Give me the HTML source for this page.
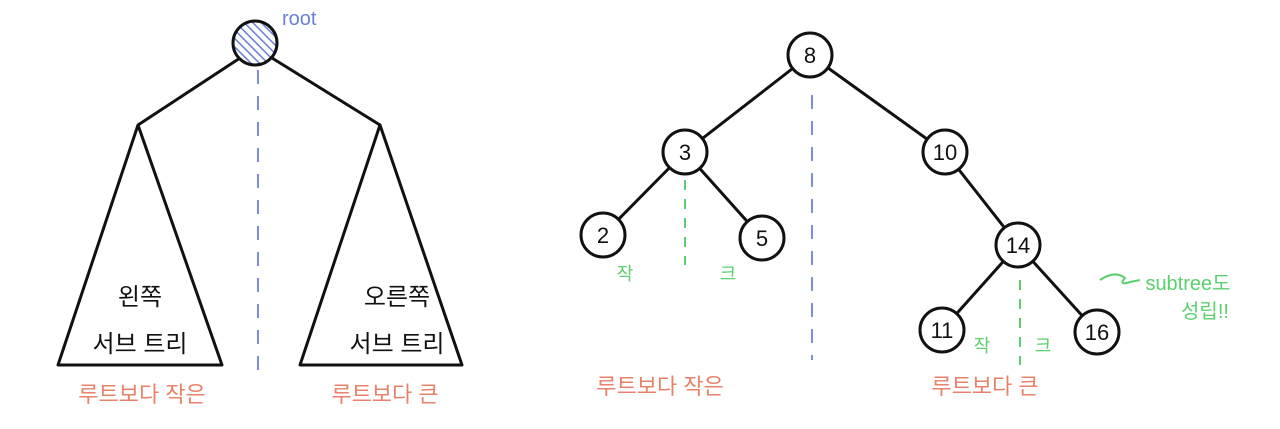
<!DOCTYPE html>
<html><head><meta charset="utf-8"><style>
body{margin:0;background:#fff;width:1280px;height:424px;overflow:hidden}
svg text{font-family:"Liberation Sans","Noto Sans CJK KR",sans-serif}
</style></head><body>
<svg width="1280" height="424" viewBox="0 0 1280 424">
<defs><pattern id="hatch" width="6" height="6" patternUnits="userSpaceOnUse" patternTransform="rotate(-45)"><rect width="6" height="6" fill="#fff"/><line x1="0" y1="0" x2="0" y2="6" stroke="#6b7fd6" stroke-width="3"/></pattern></defs>
<g stroke="#111" stroke-width="3" fill="none" stroke-linejoin="round">
<line x1="240" y1="58" x2="138" y2="125"/>
<line x1="272" y1="58" x2="380" y2="125"/>
<polygon points="138,125 58,365 222,365"/>
<polygon points="380,125 300,365 462,365"/>
</g>
<circle cx="255" cy="43" r="22" fill="url(#hatch)" stroke="#111" stroke-width="3"/>
<text x="282" y="25" fill="#6b7fd6" font-size="20">root</text>
<line x1="258" y1="70" x2="258" y2="380" stroke="#7d8ee0" stroke-width="2" stroke-dasharray="14,12"/>
<g font-size="24" fill="#111" text-anchor="middle">
<text x="140" y="305">왼쪽</text>
<text x="140" y="352">서브 트리</text>
<text x="397" y="305">오른쪽</text>
<text x="397" y="352">서브 트리</text>
</g>
<g font-size="22" fill="#e8826b" text-anchor="middle">
<text x="142" y="402">루트보다 작은</text>
<text x="385" y="402">루트보다 큰</text>
<text x="660" y="394">루트보다 작은</text>
<text x="985" y="394">루트보다 큰</text>
</g>
<g stroke="#111" stroke-width="3">
<line x1="810" y1="55" x2="685" y2="152"/>
<line x1="810" y1="55" x2="945" y2="152"/>
<line x1="685" y1="152" x2="603" y2="235"/>
<line x1="685" y1="152" x2="762" y2="238"/>
<line x1="945" y1="152" x2="1018" y2="245"/>
<line x1="1018" y1="245" x2="942" y2="330"/>
<line x1="1018" y1="245" x2="1097" y2="332"/>
</g>
<line x1="812" y1="95" x2="812" y2="360" stroke="#7d8ee0" stroke-width="2" stroke-dasharray="14,12"/>
<line x1="685" y1="180" x2="685" y2="265" stroke="#5ccf6e" stroke-width="2" stroke-dasharray="10,9"/>
<line x1="1020" y1="280" x2="1020" y2="365" stroke="#5ccf6e" stroke-width="2" stroke-dasharray="10,9"/>
<g fill="#fff" stroke="#111" stroke-width="3">
<circle cx="810" cy="55" r="22"/>
<circle cx="685" cy="152" r="22"/>
<circle cx="945" cy="152" r="22"/>
<circle cx="603" cy="235" r="22"/>
<circle cx="762" cy="238" r="22"/>
<circle cx="1018" cy="245" r="22"/>
<circle cx="942" cy="330" r="22"/>
<circle cx="1097" cy="332" r="22"/>
</g>
<g font-size="22" fill="#111" text-anchor="middle">
<text x="810" y="63">8</text><text x="685" y="160">3</text><text x="945" y="160">10</text>
<text x="603" y="243">2</text><text x="762" y="246">5</text><text x="1018" y="253">14</text>
<text x="942" y="338">11</text><text x="1097" y="340">16</text>
</g>
<g font-size="18" fill="#5ccf6e" text-anchor="middle">
<text x="625" y="280">작</text>
<text x="728" y="280">크</text>
<text x="982" y="352">작</text>
<text x="1043" y="352">크</text>
<text x="1188" y="290" font-size="20">subtree도</text>
<text x="1205" y="318" font-size="20">성립!!</text>
</g>
<path d="M1100,280 Q1115,270 1125,278 Q1118,286 1130,282 L1140,280" stroke="#5ccf6e" stroke-width="2" fill="none"/>
</svg>
</body></html>
